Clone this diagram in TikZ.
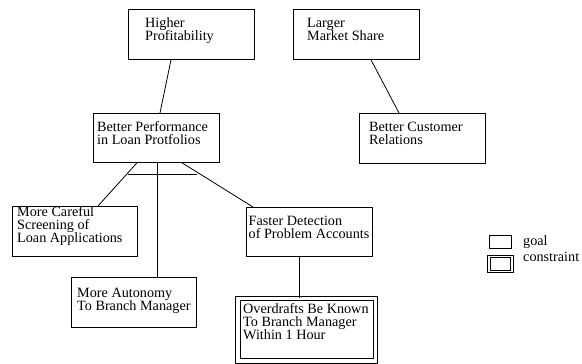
\documentclass[tikz,border=0pt]{standalone}
\usepackage{fontspec}
\setmainfont{Liberation Serif}
\usetikzlibrary{calc}

\tikzset{
  goalbox/.style={draw, line width=0.8pt, rectangle, anchor=north west, inner sep=0pt,
                  minimum width=126pt, minimum height=50pt},
  consbox/.style={goalbox, double, double distance=3.6pt},
  boxtext/.style={anchor=north west, inner sep=0pt, align=left,
                  font=\fontsize{14.2}{13.2}\selectfont},
  link/.style={line width=0.8pt},
}
% strut so the node top sits a fixed distance above the first baseline
\newcommand{\firstline}{\rule{0pt}{11pt}}

\begin{document}
\begin{tikzpicture}[x=1pt, y=-1pt]
\useasboundingbox (0,0) rectangle (582,364);

% goal boxes
\node[goalbox] (hp) at (128,9) {};
\node[goalbox] (lm) at (293,9) {};
\node[goalbox, minimum height=49pt] (bp) at (93,113) {};
\node[goalbox] (bc) at (359,113) {};
\node[goalbox, minimum width=125pt] (mc) at (12,206) {};
\node[goalbox, minimum width=125pt] (ma) at (71,277) {};
\node[goalbox, minimum height=49pt] (fd) at (246,207) {};
% constraint box
\node[consbox, minimum width=137.5pt, minimum height=62.5pt] (od) at (237.5,298) {};

% box texts
\node[boxtext] (thp) at (145,16) {\firstline Higher\\Profitability};
\node[boxtext] (tlm) at (307,16) {\firstline Larger\\Market Share};
\node[boxtext] (tbp) at (97,120) {\firstline Better Performance\\in Loan Protfolios};
\node[boxtext] (tbc) at (369,120) {\firstline Better Customer\\Relations};
\node[boxtext] (tmc) at (17,205) {\firstline More Careful\\Screening of\\Loan Applications};
\node[boxtext] (tma) at (77,286) {\firstline More Autonomy\\To Branch Manager};
\node[boxtext] (tfd) at (248.5,214) {\firstline Faster Detection\\of Problem Accounts};
\node[boxtext] (tod) at (243,302) {\firstline Overdrafts Be Known\\To Branch Manager\\Within 1 Hour};

% connectors
\draw[link] ($(hp.south west)+(43,0)$) -- ($(bp.north west)+(67,0)$);
\draw[link] ($(lm.south west)+(78,0)$) -- ($(bc.north west)+(40,0)$);
\coordinate (l0) at ($(bp.south west)+(44,0)$);
\coordinate (l1) at ($(mc.north west)+(86,0)$);
\coordinate (r0) at ($(bp.south west)+(89,0)$);
\coordinate (r1) at ($(fd.north west)+(7,0)$);
\draw[link] (l0) -- (l1);
\draw[link] (r0) -- (r1);
\draw[link] ($(bp.south west)+(64,0)$) -- ($(ma.north west)+(86,0)$);
% AND bar joining the decomposition links
\coordinate (al) at ($(l0)!0.27!(l1)$);
\coordinate (ar) at ($(r0)!0.27!(r1)$);
\draw[link] ($(al)+(1.5,0)$) -- ($(al -| ar)+(-4,0)$);
\draw[link] ($(fd.south west)+(53,0)$) -- ($(od.north west)+(61.5,0)$);

% legend
\node[goalbox, minimum width=22pt, minimum height=13pt] (lg) at (489,235) {};
\node[boxtext] (tlg) at (523,234) {\firstline goal};
\node[consbox, double distance=1.2pt, line width=1pt, minimum width=23pt, minimum height=15pt] (lc) at (488.5,256) {};
\node[boxtext] (tlc) at (523,250) {\firstline constraint};
\end{tikzpicture}
\end{document}
